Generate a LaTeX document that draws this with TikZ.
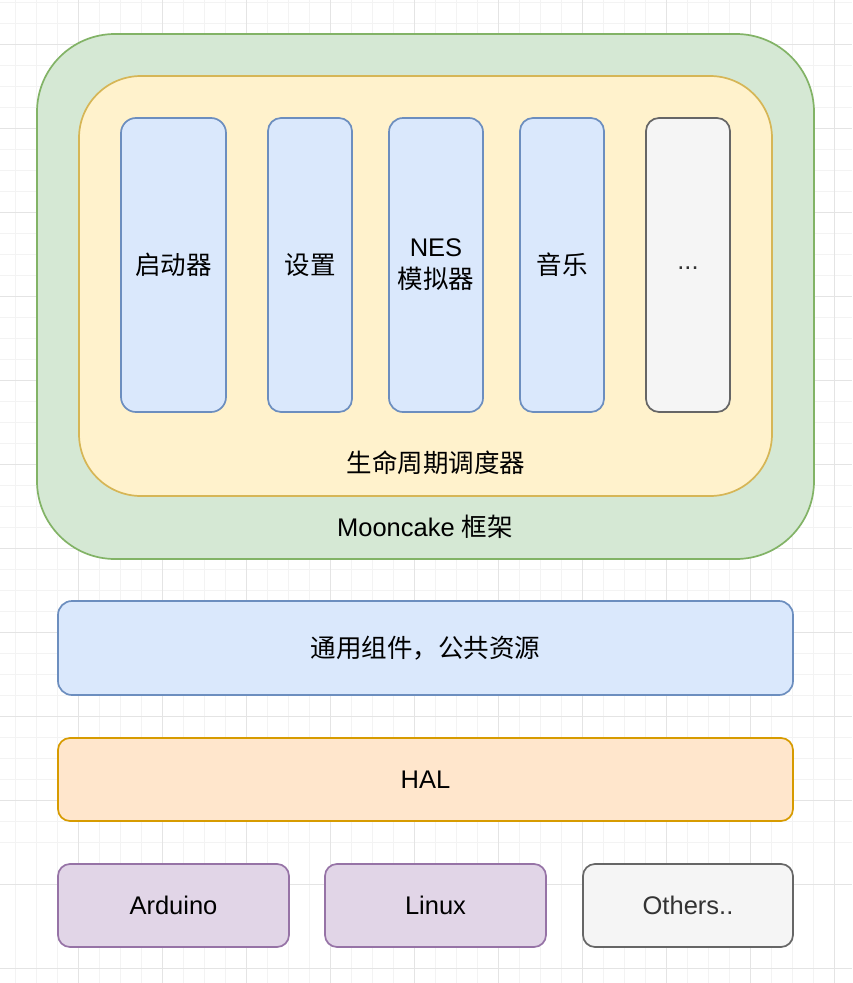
\documentclass[tikz,border=0pt]{standalone}
\usepackage{fontspec}
\setmainfont{Liberation Sans}
\newfontfamily\cjk{Noto Sans CJK SC}
\definecolor{gfill}{HTML}{D5E8D4}\definecolor{gdraw}{HTML}{82B366}
\definecolor{yfill}{HTML}{FFF2CC}\definecolor{ydraw}{HTML}{D6B656}
\definecolor{bfill}{HTML}{DAE8FC}\definecolor{bdraw}{HTML}{6C8EBF}
\definecolor{sfill}{HTML}{F5F5F5}\definecolor{sdraw}{HTML}{666666}\definecolor{stext}{HTML}{333333}
\definecolor{ofill}{HTML}{FFE6CC}\definecolor{odraw}{HTML}{D79B00}
\definecolor{pfill}{HTML}{E1D5E7}\definecolor{pdraw}{HTML}{9673A6}
\definecolor{gridminor}{HTML}{F3F3F3}\definecolor{gridmajor}{HTML}{E4E4E4}
\tikzset{
  box/.style={rectangle, inner sep=0pt, line width=1.7pt, align=center,
    font=\fontsize{25.5}{32}\selectfont},
  greenbox/.style={box, fill=gfill, draw=gdraw},
  yellowbox/.style={box, fill=yfill, draw=ydraw},
  bluebox/.style={box, fill=bfill, draw=bdraw},
  graybox/.style={box, fill=sfill, draw=sdraw, text=stext},
  orangebox/.style={box, fill=ofill, draw=odraw},
  purplebox/.style={box, fill=pfill, draw=pdraw},
  lbl/.style={inner sep=0pt, font=\fontsize{25.5}{32}\selectfont},
}
\begin{document}
\begin{tikzpicture}[x=1pt, y=-1pt]
\useasboundingbox (0,0) rectangle (852,983);
\fill[white] (0,0) rectangle (852,983);
\foreach \i in {0,...,40} {
  \draw[gridminor, line width=0.8pt] ({-6+21*\i},0) -- ({-6+21*\i},983);
  \draw[gridminor, line width=0.8pt] (0,{2+21*\i}) -- (852,{2+21*\i});
}
\foreach \i in {0,...,12} {
  \draw[gridmajor, line width=0.8pt] ({-6+84*\i},0) -- ({-6+84*\i},983);
  \draw[gridmajor, line width=0.8pt] (0,{-40+84*\i}) -- (852,{-40+84*\i});
}
% containers
\node[greenbox, minimum width=777pt, minimum height=525pt, rounded corners=78pt] (frame) at (425.5,296.5) {};
\node[yellowbox, minimum width=693pt, minimum height=420pt, rounded corners=62pt] (sched) at (425.5,286) {};
\node[lbl] (schedlbl) at (436,463) {\cjk 生命周期调度器};
\node[lbl] (framelbl) at (425,527) {Mooncake {\cjk 框架}};
% apps
\node[bluebox, minimum width=105pt, minimum height=294pt, rounded corners=15pt] (launcher) at (173.5,265) {\cjk 启动器};
\node[bluebox, minimum width=84pt, minimum height=294pt, rounded corners=13pt] (settings) at (310,265) {\cjk 设置};
\node[bluebox, minimum width=94pt, minimum height=294pt, rounded corners=14pt] (nes) at (436,265) {NES\\{\cjk 模拟器}};
\node[bluebox, minimum width=84pt, minimum height=294pt, rounded corners=13pt] (music) at (562,265) {\cjk 音乐};
\node[graybox, text=black, minimum width=84pt, minimum height=294pt, rounded corners=13pt] (more) at (688,265) {};
\node[lbl, text=stext] (moretext) at (688,268) {...};
% layers
\node[bluebox, minimum width=735pt, minimum height=94pt, rounded corners=14pt] (common) at (425.5,648) {\cjk 通用组件，公共资源};
\node[orangebox, minimum width=735pt, minimum height=83pt, rounded corners=12pt] (hal) at (425.5,779.5) {HAL};
\node[purplebox, minimum width=231pt, minimum height=83pt, rounded corners=12pt] (arduino) at (173.5,905.5) {Arduino};
\node[purplebox, minimum width=221pt, minimum height=83pt, rounded corners=12pt] (linux) at (435.5,905.5) {Linux};
\node[graybox, minimum width=210pt, minimum height=83pt, rounded corners=12pt] (others) at (688,905.5) {Others..};
\end{tikzpicture}
\end{document}
